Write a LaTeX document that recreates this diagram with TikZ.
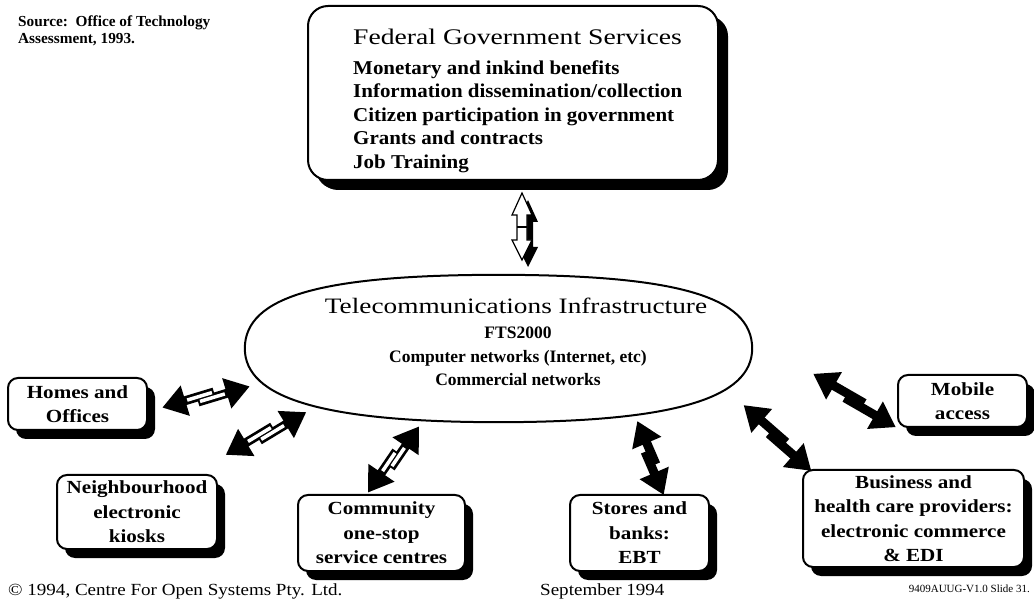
\documentclass[tikz,border=0pt]{standalone}
\usepackage{fontspec}
\setmainfont{Liberation Serif}
\newfontfamily\widetitle[FakeStretch=1.24]{Liberation Serif}
\newfontfamily\wideitem[FakeStretch=1.07]{Liberation Serif}
\newfontfamily\widebox[FakeStretch=1.14]{Liberation Serif}
\newfontfamily\widefoot[FakeStretch=1.12]{Liberation Serif}
\usetikzlibrary{arrows.meta,shadows,shapes.geometric,calc}
\newcommand\zarrowfill[2]{%
  \coordinate (zv) at ($(#1)!2.5pt!90:(#2)$);
  \coordinate (zw) at ($(#1)!2.5pt!-90:(#2)$);
  \draw[halfarrow] ($(#1)!0.6!(#2)+(zv)-(#1)$) -- ($(zv)$);
  \draw[halfarrow] ($(#1)!0.4!(#2)+(zw)-(#1)$) -- ($(#2)+(zw)-(#1)$);
}
\newcommand\zarrowhollow[2]{%
  \zarrowfill{#1}{#2}%
  \draw[whitecore] ($(#1)!0.6!(#2)+(zv)-(#1)$) -- ($(zv)$);
  \draw[whitecore] ($(#1)!0.4!(#2)+(zw)-(#1)$) -- ($(#2)+(zw)-(#1)$);
}
\begin{document}
\begin{tikzpicture}[x=1pt,y=-1pt,
  shbox/.style={draw,line width=2pt,rounded corners=10pt,fill=white,align=center,
    font=\fontsize{18.5}{24.5}\selectfont\widebox\bfseries,inner sep=0pt,
    drop shadow={shadow xshift=8pt,shadow yshift=-9pt,opacity=1,fill=black}},
  fedline/.style={anchor=base west,inner sep=0pt,font=\fontsize{19.6}{19.6}\selectfont\wideitem\bfseries},
  telline/.style={anchor=base,inner sep=0pt,font=\fontsize{17.5}{17.5}\selectfont\bfseries},
  halfarrow/.style={line width=9pt,-{Triangle[width=30pt,length=24pt]}},
  whitecore/.style={white,line width=3.5pt,shorten >=26pt,shorten <=2pt},
  foot/.style={anchor=base west,inner sep=0pt,font=\fontsize{17}{17}\selectfont\widefoot}]
\fill[white] (0,0) rectangle (1034,601);
\useasboundingbox (0,0) rectangle (1034,601);

% source note
\node[anchor=base west,inner sep=0pt,font=\fontsize{15.3}{15.3}\selectfont\bfseries] (src1) at (18,27) {Source:\ \ Office of Technology};
\node[anchor=base west,inner sep=0pt,font=\fontsize{15.3}{15.3}\selectfont\bfseries] (src2) at (18,44) {Assessment, 1993.};

% federal box
\node[shbox,minimum width=410pt,minimum height=174pt,rounded corners=20pt,
  drop shadow={shadow xshift=10pt,shadow yshift=-10pt,opacity=1,fill=black}] (fed) at (513,93) {};
\node[anchor=base west,inner sep=0pt,font=\fontsize{22.3}{22.3}\selectfont\widetitle] (fedt) at (353,45) {Federal Government Services};
\node[fedline] (fed1) at (353,75) {Monetary and inkind benefits};
\node[fedline] (fed2) at (353,98) {Information dissemination/collection};
\node[fedline] (fed3) at (353,122) {Citizen participation in government};
\node[fedline] (fed4) at (353,145) {Grants and contracts};
\node[fedline] (fed5) at (353,169) {Job Training};

% vertical hollow arrow
\fill[black] (528,200) -- (538,222) -- (533,222) -- (533,247) -- (538,247) -- (528,267)
  -- (518,247) -- (523,247) -- (523,222) -- (518,222) -- cycle;
\draw[line width=1.2pt,fill=white,line join=miter] (522,193) -- (532,215) -- (527,215) -- (527,240) -- (532,240) -- (522,260)
  -- (512,240) -- (517,240) -- (517,215) -- (512,215) -- cycle;
\draw[line width=1.2pt] (517,227) -- (527,227);

% ellipse (slightly fuller than a true ellipse)
\node[ellipse,minimum width=507pt,minimum height=147pt,inner sep=0pt] (tele) at (498.5,348.5) {};
\draw[line width=2pt] (tele.west) .. controls (245,296) and (322,275) .. (tele.north)
  .. controls (675,275) and (752,296) .. (tele.east)
  .. controls (752,398) and (675,422) .. (tele.south)
  .. controls (322,422) and (245,398) .. (tele.west) -- cycle;
\node[anchor=base,inner sep=0pt,font=\fontsize{22}{22}\selectfont\widetitle] (telet) at (516,314) {Telecommunications Infrastructure};
\node[telline] (tel1) at (518,339) {FTS2000};
\node[telline] (tel2) at (518,363) {Computer networks (Internet, etc)};
\node[telline] (tel3) at (518,386) {Commercial networks};

% small boxes
\node[shbox,minimum width=139pt,minimum height=52pt] (homes) at (77.5,404) {Homes and\\Offices};
\node[shbox,minimum width=160pt,minimum height=74pt] (kiosk) at (137,512) {Neighbourhood\\electronic\\kiosks};
\node[shbox,minimum width=167pt,minimum height=76pt] (comm) at (381.5,533) {Community\\one-stop\\service centres};
\node[shbox,minimum width=139pt,minimum height=76pt] (store) at (639.5,533) {Stores and\\banks:\\EBT};
\node[shbox,minimum width=221pt,minimum height=97pt] (bus) at (913.5,518.5) {Business and\\health care providers:\\electronic commerce\\\& EDI};
\node[shbox,minimum width=129pt,minimum height=52pt] (mob) at (962.5,401) {Mobile\\access};

% arrow end points
\coordinate (h1) at (163,410); \coordinate (h2) at (249,384);
\coordinate (k1) at (227,457); \coordinate (k2) at (305,410);
\coordinate (c1) at (370,494); \coordinate (c2) at (417,425);
\coordinate (s1) at (635,422); \coordinate (s2) at (666,494);
\coordinate (b1) at (742,407); \coordinate (b2) at (813,469);
\coordinate (m1) at (812,376); \coordinate (m2) at (897,425);

\zarrowhollow{h1}{h2}
\zarrowhollow{k1}{k2}
\zarrowhollow{c1}{c2}
\zarrowfill{s1}{s2}
\zarrowfill{b1}{b2}
\zarrowfill{m1}{m2}

% footer
\node[foot] (copy) at (8,595) {© 1994, Centre For Open Systems Pty. Ltd.};
\node[foot] (date) at (540,595) {September 1994};
\node[anchor=base east,inner sep=0pt,font=\fontsize{11}{11}\selectfont] (slide) at (1030,592) {9409AUUG-V1.0 Slide 31.};
\end{tikzpicture}
\end{document}
